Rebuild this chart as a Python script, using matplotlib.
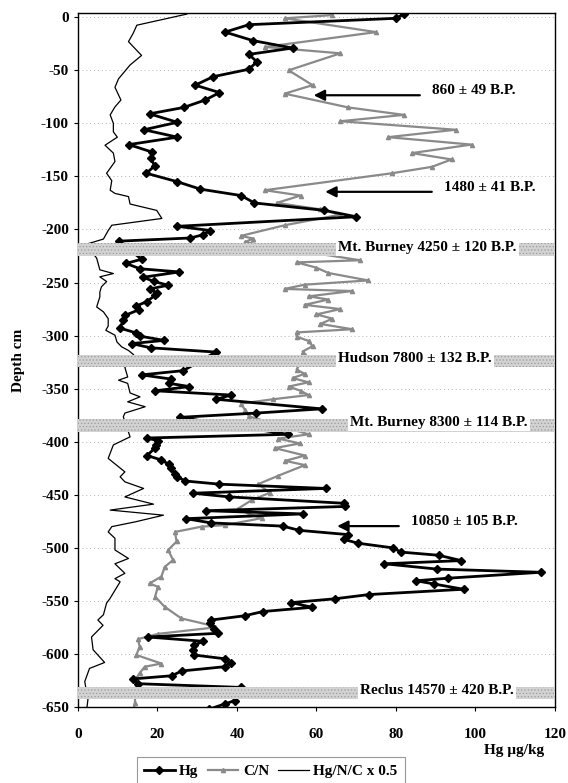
import matplotlib
matplotlib.use("Agg")
import matplotlib.pyplot as plt

plt.rcParams["font.family"] = ["Liberation Serif", "DejaVu Serif"]
plt.rcParams["font.weight"] = "bold"
plt.rcParams["axes.unicode_minus"] = False
plt.rcParams["hatch.linewidth"] = 0.5

# ---------------- data ----------------
hg_depth = [3, -1, -7, -14, -22, -29, -35, -42, -49, -56, -64, -71, -78, -85, -91, -99,
            -106, -113, -120, -127, -133, -140, -147, -155, -162, -168, -175, -182, -188,
            -197, -201, -205, -208, -211,
            -228, -232, -237, -240, -245, -249, -252.5, -256, -260, -262, -268, -272,
            -275.5, -281, -285, -293, -297.5, -300.5, -304.5, -307.5, -311.5, -315.5,
            -333, -337, -341, -345, -348, -352, -356, -360, -369, -373, -377,
            -393, -396.5, -399, -403, -406, -413, -417, -421, -425, -430, -433, -437,
            -440, -444, -448.5, -452, -458, -461, -465, -468, -472.5, -476.5, -479.5,
            -483.5, -487.5, -492, -495.6, -500, -504, -507, -512, -515, -520, -523,
            -528.6, -531, -534, -539, -544, -548, -551.6, -556, -560, -564, -568,
            -570.5, -576, -580.5, -584, -588, -592, -596.5, -601, -604.5, -608.5, -612,
            -616, -620.5, -623.5, -628, -631.5, -644, -647, -652]
hg_value = [82, 80, 43, 37, 44, 54, 43, 45, 43, 34, 29.5, 35.6, 32, 26.6, 18, 25,
            16.6, 25, 12.8, 18.6, 18.3, 19.3, 17.2, 25, 30.8, 41, 44.4, 62, 70,
            25, 33.3, 31.4, 28.3, 10.2,
            16, 12.1, 15.6, 25.5, 16.4, 19.1, 22.7, 18.1, 19.9, 19.4, 17.3, 14.7,
            15.4, 11.8, 11.4, 10.6, 14.7, 15.6, 21.7, 13.5, 18.3, 34.7,
            26.5, 16, 23.5, 23, 28, 19.5, 38.5, 34.8, 61.3, 44.8, 25.6,
            52.8, 17.3, 20.1, 19.7, 19.3, 17.4, 20.8, 22.8, 23.5, 24.3, 25, 27,
            35.6, 62.4, 28.9, 38.1, 67, 67.1, 32.2, 56.6, 27.2, 33.5, 51.5,
            55.7, 67.9, 66.9, 70.4, 79.2, 81.3, 90.8, 96.4, 77.1, 90.3, 116.5,
            93, 85.1, 89.5, 97, 73.2, 64.6, 53.7, 58.9, 46.5, 41.9, 33.5,
            33.3, 34.3, 35.2, 17.6, 31.4, 29.3, 28.9, 29.3, 36.9, 38.4, 36.9,
            26.1, 23.6, 13.8, 15.1, 41, 39.4, 37, 33]

cn_depth = [2, -1, -14, -28, -34, -50, -64, -72, -85, -92, -98, -106, -113, -120, -128,
            -134, -141, -147, -163, -168, -175, -181, -186, -196, -206, -208.5, -212,
            -229, -231, -236, -241, -248, -252, -256, -258, -263, -266, -271, -275,
            -280, -284, -289, -294, -297, -301, -305, -310, -315, -318,
            -332, -336, -340, -344, -348, -352, -356, -360, -364, -370, -376,
            -393, -397, -401.6, -406, -413, -418, -422, -432, -440, -448, -455, -463,
            -468, -472, -478.6, -480, -485, -494, -502, -511.5, -518, -527, -533.5,
            -536.7, -546, -555.5, -566.5, -572.8, -575, -581, -586, -593, -601, -609,
            -612, -618, -623, -646.5, -652]
cn_value = [64, 52, 75, 47, 66, 53, 59, 52, 68, 82, 66, 95, 78, 99, 84,
            94, 89, 79, 47, 56, 50, 61, 66, 52, 41, 44, 42,
            71, 55, 60, 63, 73, 57, 52, 69, 58, 63, 57, 66,
            60, 64, 61, 69, 55, 55, 58, 59, 56.5, 57,
            55, 57, 54, 58, 53, 56, 58, 49, 41, 42, 43,
            58, 50.4, 55.8, 49.5, 57.1, 52.1, 57.1, 50.4, 45.3, 48.3, 43.7, 40.3,
            43, 46.2, 37, 31.1, 24.4, 24.8, 22.7, 23.9, 21.8, 21, 18,
            20.1, 19.4, 21.8, 26, 33.2, 34.4, 20.2, 15.1, 15.5, 14.7, 21,
            16.8, 15.5, 14.7, 14.3, 14]

ratio_depth = [3, -7.5, -15, -23, -36, -45, -58, -66, -78, -84.5, -92, -100, -108, -113,
               -120.6, -128, -136, -147, -154, -163, -166, -169, -176, -182, -189.6,
               -196, -201, -209, -214,
               -227, -238, -241.5, -244.6, -249, -254, -259, -263.5, -273, -277.6,
               -284, -291, -295, -299.6, -306, -310.6, -314, -318,
               -330, -339, -342, -345, -354, -357.7, -362.4, -367, -373, -376.5,
               -395.4, -403, -415.7, -428.4, -433, -437.8, -444, -452, -458.8, -464.4,
               -469.2, -475.5, -480, -485, -491, -502, -510, -515, -524, -529, -532,
               -540, -548, -552, -563, -568, -573, -584, -596, -608, -613.6, -626,
               -643, -652]
ratio_value = [27.4, 14.8, 13.9, 12.7, 16, 13.1, 10.2, 9.3, 10.8, 9.3, 8.1, 8.9, 8.9, 9.9,
               6.8, 8.9, 9.3, 7.2, 8.5, 8.1, 9.3, 12.7, 13.1, 19.8, 21.1,
               8.5, 7.6, 6.4, 2,
               4.7, 5.5, 8.9, 5.5, 7.2, 5.9, 5.5, 5.5, 4.7, 6.4,
               7.6, 7.6, 7, 9.3, 9.8, 11, 12.7, 14,
               11.8, 12.5, 10.2, 12.5, 13.1, 15.6, 12.5, 16.9, 11.8, 11.4,
               13.1, 8.9, 7.6, 11.8, 10.6, 11.8, 16.5, 11.8, 19, 8.1,
               21.5, 14.4, 8.5, 7.6, 9.3, 9.3, 12.7, 9.3, 11.8, 9.3, 10.6,
               9.3, 8, 7.2, 6.4, 5, 6.3, 3.4, 3.8, 6.7, 2.9, 1.7,
               2.5, 2.2]

# tephra layers: label, centre depth, half thickness, label x
tephra_labels = ["Mt. Burney 4250 \u00b1 120 B.P.", "Hudson 7800 \u00b1 132 B.P.",
                 "Mt. Burney 8300 \u00b1 114 B.P.", "Reclus 14570 \u00b1 420 B.P."]
tephra_depth = [-219, -324, -384.5, -636.5]
tephra_half = [6, 5.5, 6, 5.5]
tephra_text_x = [65.5, 65.5, 68.5, 71]

# radiocarbon dates with arrows
date_labels = ["860 \u00b1 49 B.P.", "1480 \u00b1 41 B.P.", "10850 \u00b1 105 B.P."]
date_depth = [-73.5, -164.5, -479.5]
arrow_tip = [59.3, 62.2, 65.2]
arrow_tail = [86, 89, 80.7]

# ---------------- figure ----------------
fig = plt.figure(figsize=(5.68, 7.83), dpi=100)
ax = fig.add_axes([0.1373, 0.097, 0.8398, 0.8864])

l3, = ax.plot(ratio_value, ratio_depth, color="black", lw=0.9, zorder=2)
l2, = ax.plot(cn_value, cn_depth, color="#8a8a8a", lw=1.6, marker="^", ms=3,
              mec="#8a8a8a", zorder=2)
l1, = ax.plot(hg_value, hg_depth, color="black", lw=2, marker="D", ms=4.5, zorder=3)

for lab, d, h, tx in zip(tephra_labels, tephra_depth, tephra_half, tephra_text_x):
    ax.axhspan(d - h, d + h, facecolor="#d2d2d2", edgecolor="#9c9c9c", hatch=".....",
               lw=0, zorder=4)
    ax.text(tx, d + 2.5, lab, fontsize=11, fontweight="bold", ha="left", va="center",
            zorder=6, bbox=dict(facecolor="white", edgecolor="none", pad=1.5))

for lab, d, tip, tail in zip(date_labels, date_depth, arrow_tip, arrow_tail):
    ax.annotate("", xy=(tip, d), xytext=(tail, d),
                arrowprops=dict(arrowstyle="-|>", color="black", lw=1.6,
                                mutation_scale=16, shrinkA=0, shrinkB=0), zorder=6)
    ax.text(tail + 3, d + 4, lab, fontsize=11, fontweight="bold", ha="left",
            va="center", zorder=6)

ax.set_xlim(0, 120)
ax.set_ylim(-650, 4)
ax.set_xticks(range(0, 121, 20))
ax.set_yticks(range(-650, 1, 50))
ax.tick_params(axis="both", labelsize=11, direction="out", length=3, width=0.8)
ax.tick_params(axis="x", pad=12)
for lbl in ax.get_xticklabels() + ax.get_yticklabels():
    lbl.set_fontweight("bold")
ax.yaxis.grid(True, linestyle=(0, (1, 3)), color="#b4b4b4", lw=0.7)
ax.set_axisbelow(True)
for sp in ax.spines.values():
    sp.set_linewidth(1.0)

fig.text(0.032, 0.54, "Depth cm", rotation=90, ha="center", va="center",
         fontsize=11, fontweight="bold")
fig.text(0.905, 0.042, "Hg \u00b5g/kg", ha="center", va="center",
         fontsize=11, fontweight="bold")

leg = fig.legend([l1, l2, l3], ["Hg", "C/N", "Hg/N/C x 0.5"], loc="lower center",
                 bbox_to_anchor=(0.477, -0.012), ncol=3, fancybox=False,
                 edgecolor="#808080", handlelength=2.0, columnspacing=0.6,
                 handletextpad=0.3, borderpad=0.45, prop=dict(size=11, weight="bold"))
leg.get_frame().set_linewidth(0.8)

fig.savefig("out.png", dpi=100)
